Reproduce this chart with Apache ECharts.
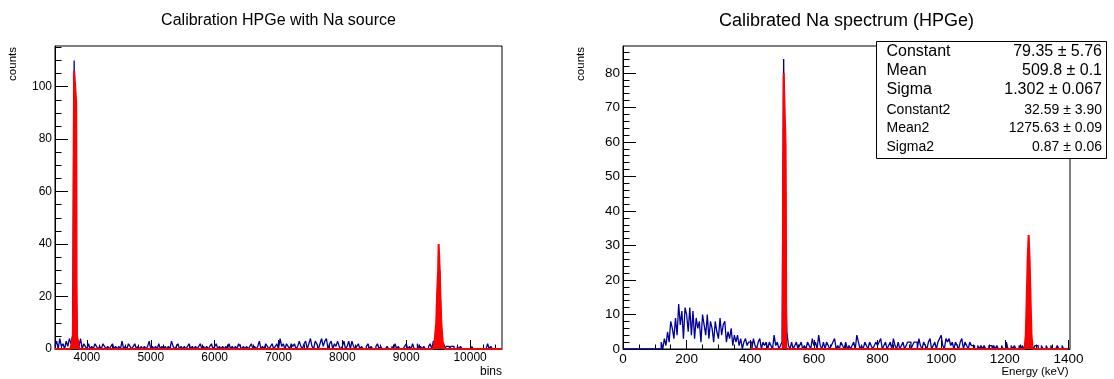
<!DOCTYPE html>
<html><head><meta charset="utf-8">
<script src="https://cdn.jsdelivr.net/npm/echarts@6/dist/echarts.min.js"></script>
<style>html,body{margin:0;padding:0;background:#fff}#c{width:1114px;height:379px}</style>
</head><body><div id="c"></div>
<script>
// ---------------- data ----------------
// Left: raw spectrum, counts per 25-wide bin starting at 3500
const LEFT_BIN_START = 3500;
const LEFT_BIN_WIDTH = 25;
const LEFT_COUNTS = [
  // 3500-4500
  1,3,0,4,1,2,0,3,1,4,2,5,110,25,4,1,4,0,2,1, 0,2,0,1,0,2,1,0,1,0,2,1,0,1,0,1,2,0,1,0,
  // 4500-5500
  1,0,3,0,1,0,2,1,0,1,2,0,1,0,1,0,1,0,1,3, 0,1,0,1,0,2,0,1,0,1,0,1,0,3,1,0,1,2,0,1,
  // 5500-6500
  0,1,0,1,2,0,1,0,1,0,1,2,0,1,0,1,0,1,2,0, 1,2,0,1,0,1,0,1,0,2,0,1,0,1,0,2,1,0,1,0,
  // 6500-7500
  1,0,1,2,0,1,0,1,3,0,1,0,2,1,0,1,2,0,1,2, 0,4,1,2,0,2,1,0,2,1,2,0,1,3,1,0,2,3,0,2,
  // 7500-8500
  4,1,0,3,2,0,2,4,1,3,4,0,2,3,0,2,1,3,1,0, 1,3,0,1,3,0,3,1,0,1,2,0,1,0,0,1,2,0,1,0,
  // 8500-9500
  0,1,2,0,1,0,0,0,1,0,0,1,0,2,0,1,0,0,0,1, 2,0,1,0,2,0,0,2,0,1,0,1,0,0,1,2,0,3,2,5,
  // 9500-10500
  20,30,6,1,0,1,1,0,1,1,0,0,1,0,1,0,0,0,0,0, 0,1,0,0,0,0,0,0,0,0,0,2,0,1,0,0,0,0,0,0
];
// Left: fitted function (red), x and y
const LEFT_FIT_X = [3500,3740,3760,3780,3788,3793,3800,3825,3832,3838,3845,3880,
                    9420,9445,9470,9485,9500,9508,9516,9525,9535,9550,9570,9600,10500];
const LEFT_FIT_Y = [0,0,2,5,26,78,106,106,94,26,5,0,
                    0,3,10,22,30,40,40,30,20,10,3,0,0];

// Right: calibrated spectrum, counts per 5 keV bin starting at 0
const RIGHT_BIN_START = 0;
const RIGHT_BIN_WIDTH = 5;
const RIGHT_COUNTS = [
  // 0-120
  0,0,0,0,0,0,0,0,0,0,0,0,0,0,0,0,0,0,0,0,0,0,0,0,
  // 120-400
  2,0,3,1, 5,2,8,6, 3,9,4,13, 7,11,3,12, 10,5,12,4, 11,3,9,6, 8,2,10,7,
  4,10,3,8, 6,2,8,5, 3,9,4,7, 8,2,5,3, 6,1,4,2, 4,1,3,0, 2,3,1,2,
  // 400-500
  2,0,3,1,0,2,3,0,2,1,2,0,2,1,0,4,1,2,0,1,
  // 500-520
  2,84,30,5,
  // 520-600
  1,0,2,0,1,2,0,1,2,0,1,0,2,1,0,3,
  // 600-700
  1,2,0,4,1,0,2,0,2,1,0,1,2,3,0,1,0,2,1,0,
  // 700-800
  2,0,1,0,1,2,0,4,2,0,1,0,2,1,0,2,1,0,1,2,
  // 800-900
  1,2,3,0,1,2,0,1,2,0,3,1,0,2,0,1,2,0,1,2,
  // 900-1000
  2,0,1,2,2,0,3,1,0,2,1,0,2,3,0,1,2,0,2,3,
  // 1000-1100
  4,1,0,3,2,3,1,2,0,2,1,0,2,3,0,2,1,0,2,1,
  // 1100-1200
  1,0,0,1,0,1,0,1,0,0,1,1,0,1,0,1,0,0,1,0,
  // 1200-1300
  0,2,0,0,1,0,1,0,0,1,0,1,0,1,12,18,6,1,0,1,
  // 1300-1400
  1,0,0,1,0,0,1,0,0,1,0,0,0,1,0,0,1,0,0,0
];
const RIGHT_FIT_X = [400,502,503,504,505,510,511,512,513,
                     1262,1266,1268,1270,1272,1275,1278,1280,1282,1284,1288,1400];
const RIGHT_FIT_Y = [0,0,44,59,80,80,59,44,0,
                     0,4,11,18.5,26,33,26,18.5,11,4,0,0];

// Axis ranges and ticks
const LEFT_X_RANGE = [3500, 10500];
const LEFT_Y_RANGE = [0, 115.5];
const RIGHT_X_RANGE = [0, 1405];
const RIGHT_Y_RANGE = [0, 87.8];
const LEFT_X_TICKS = [4000,5000,6000,7000,8000,9000,10000];
const LEFT_X_MINOR = [3600,3800,4200,4400,4600,4800,5200,5400,5600,5800,6200,6400,6600,6800,
                      7200,7400,7600,7800,8200,8400,8600,8800,9200,9400,9600,9800,10200,10400];
const LEFT_Y_TICKS = [0,20,40,60,80,100];
const LEFT_Y_MINOR = [5,10,15,25,30,35,45,50,55,65,70,75,85,90,95,105,110,115];
const RIGHT_X_TICKS = [0,200,400,600,800,1000,1200,1400];
const RIGHT_X_MINOR = [50,100,150,250,300,350,450,500,550,650,700,750,850,900,950,
                       1050,1100,1150,1250,1300,1350];
const RIGHT_Y_TICKS = [0,10,20,30,40,50,60,70,80];
const RIGHT_Y_MINOR = [2,4,6,8,12,14,16,18,22,24,26,28,32,34,36,38,42,44,46,48,
                       52,54,56,58,62,64,66,68,72,74,76,78,82,84,86];

// Text
const LEFT_TITLE = 'Calibration HPGe with Na source';
const RIGHT_TITLE = 'Calibrated Na spectrum (HPGe)';
const Y_TITLE = 'counts';
const LEFT_X_TITLE = 'bins';
const RIGHT_X_TITLE = 'Energy (keV)';
const STAT_NAMES = ['Constant','Mean','Sigma','Constant2','Mean2','Sigma2'];
const STAT_VALUES = ['79.35 \u00b1 5.76','509.8 \u00b1 0.1','1.302 \u00b1 0.067',
                     '32.59 \u00b1 3.90','1275.63 \u00b1 0.09','0.87 \u00b1 0.06'];

// ---------------- chart ----------------
const FONT = '"Liberation Sans", Arial, Helvetica, sans-serif';
const BLUE = '#000099';
const RED = '#ff0000';

function histData(start, width, counts) {
  const d = counts.map((v, i) => [start + i * width, v]);
  d.push([start + counts.length * width, 0]);
  return d;
}
function pairs(xs, ys) { return xs.map((x, i) => [x, ys[i]]); }

function axis(gridIndex, pos, range, ticks, len, labelSize, major) {
  return {
    gridIndex: gridIndex, type: 'value', position: pos,
    min: range[0], max: range[1],
    axisLine: { show: major, onZero: false, lineStyle: { color: '#000', width: 1 } },
    axisTick: { show: true, inside: true, length: len, customValues: ticks,
                lineStyle: { color: '#000', width: 1 } },
    axisLabel: major ? { show: true, customValues: ticks, margin: 3, fontSize: labelSize,
                color: '#000', fontFamily: FONT, formatter: v => String(v) } : { show: false },
    splitLine: { show: false }, minorTick: { show: false }, minorSplitLine: { show: false }
  };
}

const chart = echarts.init(document.getElementById('c'));

function text(x, y, str, size, align, vAlign, extra) {
  return Object.assign({
    type: 'text', x: x, y: y,
    style: { text: str, fontSize: size, fontFamily: FONT, fill: '#000',
             align: align, verticalAlign: vAlign, textAlign: align, textVerticalAlign: vAlign }
  }, extra || {});
}

const statRowsY = [51.7, 70.7, 89.3, 110, 128.5, 147.5];
const statSizes = [16, 16, 16, 14, 14, 14];
const statChildren = [{
  type: 'rect', shape: { x: 876.5, y: 41.5, width: 230, height: 117 },
  style: { fill: '#fff', stroke: '#000', lineWidth: 1 }
}];
STAT_NAMES.forEach((n, i) => {
  statChildren.push(text(886.5, statRowsY[i], n, statSizes[i], 'left', 'middle'));
  statChildren.push(text(1102, statRowsY[i], STAT_VALUES[i], statSizes[i], 'right', 'middle'));
});

const option = {
  animation: false,
  backgroundColor: '#fff',
  grid: [
    { left: 55, top: 46, width: 447, height: 303, show: true, borderColor: '#000', borderWidth: 1,
      backgroundColor: 'transparent', containLabel: false, outerBoundsMode: 'none' },
    { left: 623, top: 46, width: 447, height: 303, show: true, borderColor: '#000', borderWidth: 1,
      backgroundColor: 'transparent', containLabel: false, outerBoundsMode: 'none' }
  ],
  xAxis: [
    axis(0, 'bottom', LEFT_X_RANGE, LEFT_X_TICKS, 9, 12, true),
    axis(0, 'bottom', LEFT_X_RANGE, LEFT_X_MINOR, 4.5, 12, false),
    axis(1, 'bottom', RIGHT_X_RANGE, RIGHT_X_TICKS, 9, 13.5, true),
    axis(1, 'bottom', RIGHT_X_RANGE, RIGHT_X_MINOR, 4.5, 13.5, false)
  ],
  yAxis: [
    axis(0, 'left', LEFT_Y_RANGE, LEFT_Y_TICKS, 13, 12, true),
    axis(0, 'left', LEFT_Y_RANGE, LEFT_Y_MINOR, 6.5, 12, false),
    axis(1, 'left', RIGHT_Y_RANGE, RIGHT_Y_TICKS, 13, 13.5, true),
    axis(1, 'left', RIGHT_Y_RANGE, RIGHT_Y_MINOR, 6.5, 13.5, false)
  ],
  series: [
    { type: 'line', xAxisIndex: 0, yAxisIndex: 0, step: 'end', symbol: 'none', silent: true,
      data: histData(LEFT_BIN_START, LEFT_BIN_WIDTH, LEFT_COUNTS),
      lineStyle: { color: BLUE, width: 1.3 }, z: 2 },
    { type: 'line', xAxisIndex: 0, yAxisIndex: 0, symbol: 'none', silent: true,
      data: pairs(LEFT_FIT_X, LEFT_FIT_Y),
      lineStyle: { color: RED, width: 2 }, areaStyle: { color: RED, opacity: 1 }, z: 3 },
    { type: 'line', xAxisIndex: 2, yAxisIndex: 2, step: 'end', symbol: 'none', silent: true,
      data: histData(RIGHT_BIN_START, RIGHT_BIN_WIDTH, RIGHT_COUNTS),
      lineStyle: { color: BLUE, width: 1.3 }, z: 2 },
    { type: 'line', xAxisIndex: 2, yAxisIndex: 2, symbol: 'none', silent: true,
      data: pairs(RIGHT_FIT_X, RIGHT_FIT_Y),
      lineStyle: { color: RED, width: 2 }, areaStyle: { color: RED, opacity: 1 }, z: 3 }
  ],
  graphic: [
    text(278.5, 21, LEFT_TITLE, 16, 'center', 'middle'),
    text(846.5, 21, RIGHT_TITLE, 18, 'center', 'middle'),
    text(12.5, 47, Y_TITLE, 11.5, 'right', 'middle', { rotation: Math.PI / 2 }),
    text(581, 47, Y_TITLE, 11.5, 'right', 'middle', { rotation: Math.PI / 2 }),
    text(502, 372, LEFT_X_TITLE, 12, 'right', 'middle'),
    text(1068.5, 372, RIGHT_X_TITLE, 11.5, 'right', 'middle'),
    { type: 'group', z: 100, children: statChildren }
  ]
};
chart.setOption(option);
</script>
</body></html>
